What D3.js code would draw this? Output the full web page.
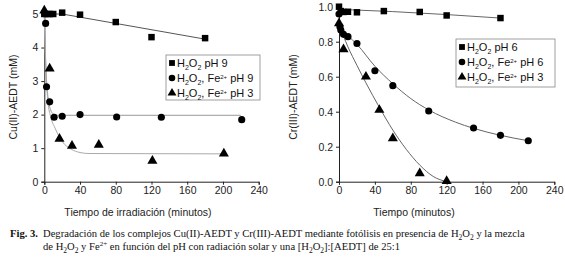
<!DOCTYPE html>
<html>
<head>
<meta charset="utf-8">
<script src="https://cdn.jsdelivr.net/npm/d3@7"></script>
<style>
  body { margin: 0; background: #fff; }
  svg text { font-family: Arial, "Liberation Sans", sans-serif; }
</style>
</head>
<body>
<svg id="fig" width="565" height="259"></svg>
<script>
// ---- data: left panel, Cu(II)-AEDT ----
var cuSqT = [0, 3, 6, 10, 20, 40, 80, 120, 180];
var cuSqY = [5.0, 5.0, 5.0, 5.0, 5.04, 4.98, 4.76, 4.31, 4.28];
var cuCiT = [1.5, 2.5, 6, 11, 20, 40, 81, 131, 221];
var cuCiY = [4.72, 2.83, 2.38, 1.92, 1.95, 2.0, 1.93, 1.92, 1.85];
var cuTrT = [0, 6, 17, 31, 61, 121, 201];
var cuTrY = [5.1, 3.37, 1.28, 1.07, 1.1, 0.62, 0.84];
// fitted curves
var cuSqFit = [[0, 5.0], [20, 5.0], [180, 4.25]];
var cuCiFit = [[0, 4.95], [2, 3.3], [4, 2.55], [7, 2.15], [10, 2.02], [15, 1.98], [220, 1.98]];
var cuTrFit = [[0, 5.0], [2, 3.2], [4, 2.4], [7, 1.95], [12, 1.6], [20, 1.2], [30, 0.97], [40, 0.87], [50, 0.84], [200, 0.83]];

// ---- data: right panel, Cr(III)-AEDT ----
var crSqT = [0, 2, 5, 10, 20, 50, 90, 120, 180];
var crSqY = [1.0, 0.975, 0.97, 0.971, 0.968, 0.975, 0.97, 0.95, 0.935];
var crCiT = [0, 1, 2, 5, 10, 20, 40, 60, 100, 150, 180, 211];
var crCiY = [0.958, 0.886, 0.867, 0.842, 0.829, 0.79, 0.634, 0.549, 0.404, 0.307, 0.265, 0.234];
var crTrT = [0, 5, 30, 45, 60, 90, 120];
var crTrY = [0.905, 0.756, 0.6, 0.41, 0.248, 0.048, 0.004];
var crSqFit = [[0, 0.985], [60, 0.972], [120, 0.955], [180, 0.935]];
var crCiFit = [[0, 0.9], [10, 0.835], [20, 0.785], [40, 0.66], [60, 0.56], [80, 0.475], [100, 0.41], [130, 0.34], [150, 0.305], [180, 0.265], [210, 0.235]];
var crTrFit = [[0, 0.9], [10, 0.77], [20, 0.665], [30, 0.565], [45, 0.425], [60, 0.295], [75, 0.185], [90, 0.095], [105, 0.03], [120, 0.0]];

var xTicks = [0, 40, 80, 120, 160, 200, 240];
var cuTicks = [0, 1, 2, 3, 4, 5];
var crTicks = [0, 0.2, 0.4, 0.6, 0.8, 1.0];

var svg = d3.select("#fig");

function zip(t, y) {
    return t.map(function (d, i) { return [d, y[i]]; });
}

function drawPanel(opt) {
    var g = svg.append("g");
    var x = d3.scaleLinear().domain([0, 240]).range([opt.x0, opt.x1]);
    var y = d3.scaleLinear().domain(opt.yDomain).range([181.7, opt.yTop]);

    g.append("g")
        .attr("transform", "translate(0,181.7)")
        .call(d3.axisBottom(x).tickValues(xTicks).tickSize(3).tickPadding(2).tickFormat(d3.format("d")))
        .call(function (a) {
            a.selectAll("text").attr("font-size", 10.5).attr("fill", "#222");
            a.selectAll("line,path").attr("stroke", "#222");
        });
    g.append("g")
        .attr("transform", "translate(" + opt.x0 + ",0)")
        .call(d3.axisLeft(y).tickValues(opt.yTicks).tickSize(3).tickPadding(3).tickFormat(opt.fmt))
        .call(function (a) {
            a.selectAll("text").attr("font-size", 10.5).attr("fill", "#222");
            a.selectAll("line,path").attr("stroke", "#222");
        });

    var line = d3.line()
        .x(function (d) { return x(d[0]); })
        .y(function (d) { return y(d[1]); });

    opt.fits.forEach(function (f) {
        line.curve(f.straight ? d3.curveLinear : d3.curveMonotoneX);
        g.append("path").attr("d", line(f.pts))
            .attr("fill", "none").attr("stroke", f.color).attr("stroke-width", 1);
    });

    var shapes = [d3.symbolSquare, d3.symbolCircle, d3.symbolTriangle];
    var sizes = [42, 40, 44];
    opt.series.forEach(function (s, i) {
        g.selectAll(null).data(s).enter().append("path")
            .attr("transform", function (d) { return "translate(" + x(d[0]) + "," + y(d[1]) + ")"; })
            .attr("d", d3.symbol().type(shapes[i]).size(sizes[i]))
            .attr("fill", "#000");
    });

    // y label
    g.append("text")
        .attr("transform", "translate(" + opt.yLabX + ",97)rotate(-90)")
        .attr("text-anchor", "middle").attr("font-size", 10.5).attr("fill", "#222")
        .text(opt.yLabel);
    // x label
    g.append("text")
        .attr("x", opt.xLabX).attr("y", 216)
        .attr("text-anchor", "middle").attr("font-size", 10.5).attr("fill", "#222")
        .text(opt.xLabel);

    // legend
    var lg = g.append("g").attr("transform", "translate(" + opt.leg[0] + "," + opt.leg[1] + ")");
    lg.append("rect").attr("width", opt.leg[2]).attr("height", opt.leg[3])
        .attr("fill", "#fff").attr("stroke", "#888").attr("stroke-width", 0.8);
    opt.legText.forEach(function (l, i) {
        var cy = 11 + i * 15;
        lg.append("path")
            .attr("transform", "translate(6," + (cy - 3) + ")")
            .attr("d", d3.symbol().type(shapes[i]).size(34))
            .attr("fill", "#000");
        var t = lg.append("text").attr("x", 11).attr("y", cy + 1)
            .attr("font-size", 11).attr("fill", "#111");
        t.append("tspan").text("H");
        t.append("tspan").text("2").attr("font-size", 7).attr("dy", 3);
        t.append("tspan").text("O").attr("dy", -3);
        t.append("tspan").text("2").attr("font-size", 7).attr("dy", 3);
        if (l.fe) {
            t.append("tspan").text(", Fe").attr("dy", -3);
            t.append("tspan").text("2+").attr("font-size", 6).attr("dy", -3);
            t.append("tspan").text(" " + l.ph).attr("dy", 3);
        } else {
            t.append("tspan").text(" " + l.ph).attr("dy", -3);
        }
    });
}

drawPanel({
    x0: 44.3, x1: 258.7, yDomain: [0, 5], yTop: 14, yTicks: cuTicks, fmt: d3.format("d"),
    yLabel: "Cu(II)-AEDT (mM)", yLabX: 17, xLabel: "Tiempo de irradiación (minutos)", xLabX: 138,
    fits: [
        { pts: cuSqFit, color: "#555", straight: true },
        { pts: cuCiFit, color: "#999" },
        { pts: cuTrFit, color: "#aaa" }
    ],
    series: [zip(cuSqT, cuSqY), zip(cuCiT, cuCiY), zip(cuTrT, cuTrY)],
    leg: [166, 55, 94, 45],
    legText: [{ fe: false, ph: "pH 9" }, { fe: true, ph: "pH 9" }, { fe: true, ph: "pH 3" }]
});

drawPanel({
    x0: 339, x1: 554.3, yDomain: [0, 1], yTop: 6.7, yTicks: crTicks, fmt: d3.format(".1f"),
    yLabel: "Cr(III)-AEDT (mM)", yLabX: 297, xLabel: "Tiempo (minutos)", xLabX: 414,
    fits: [
        { pts: crSqFit, color: "#666" },
        { pts: crCiFit, color: "#666" },
        { pts: crTrFit, color: "#666" }
    ],
    series: [zip(crSqT, crSqY), zip(crCiT, crCiY), zip(crTrT, crTrY)],
    leg: [456, 39, 99, 48],
    legText: [{ fe: false, ph: "pH 6" }, { fe: true, ph: "pH 6" }, { fe: true, ph: "pH 3" }]
});

// caption
var cap = svg.append("g").attr("font-size", 10.6).attr("fill", "#111");
var c1 = cap.append("text").attr("x", 10).attr("y", 237).style("font-family", "'Liberation Serif', 'Times New Roman', serif");
c1.append("tspan").text("Fig. 3.").attr("font-weight", "bold");
c1.append("tspan").attr("x", 43).text("Degradación de los complejos Cu(II)-AEDT y Cr(III)-AEDT mediante fotólisis en presencia de H");
c1.append("tspan").text("2").attr("font-size", 7.5).attr("dy", 3);
c1.append("tspan").text("O").attr("dy", -3);
c1.append("tspan").text("2").attr("font-size", 7.5).attr("dy", 3);
c1.append("tspan").text(" y la mezcla").attr("dy", -3);
var c2 = cap.append("text").attr("x", 43).attr("y", 250).style("font-family", "'Liberation Serif', 'Times New Roman', serif");
c2.append("tspan").text("de H");
c2.append("tspan").text("2").attr("font-size", 7.5).attr("dy", 3);
c2.append("tspan").text("O").attr("dy", -3);
c2.append("tspan").text("2").attr("font-size", 7.5).attr("dy", 3);
c2.append("tspan").text(" y Fe").attr("dy", -3);
c2.append("tspan").text("2+").attr("font-size", 7).attr("dy", -4);
c2.append("tspan").text(" en función del pH con radiación solar y una [H").attr("dy", 4);
c2.append("tspan").text("2").attr("font-size", 7.5).attr("dy", 3);
c2.append("tspan").text("O").attr("dy", -3);
c2.append("tspan").text("2").attr("font-size", 7.5).attr("dy", 3);
c2.append("tspan").text("]:[AEDT] de 25:1").attr("dy", -3);
</script>
</body>
</html>
